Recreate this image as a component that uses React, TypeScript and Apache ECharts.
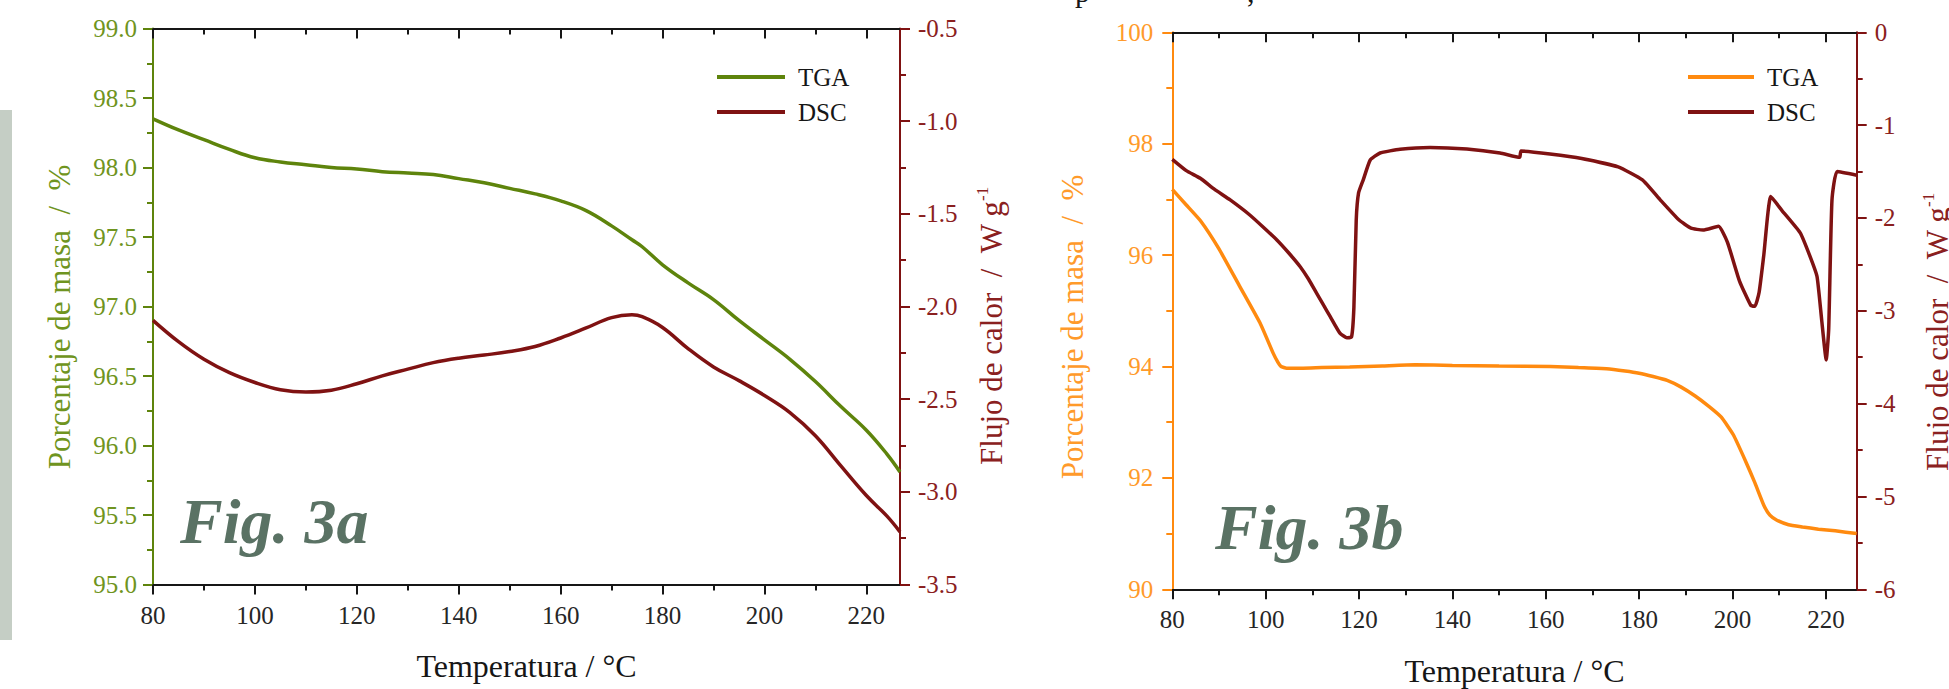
import { useEffect, useRef } from 'react';
import * as echarts from 'echarts';

// ---------- data ----------
const xMajorTicks = [80, 100, 120, 140, 160, 180, 200, 220];
const xMinorTicks = [90, 110, 130, 150, 170, 190, 210];

// Fig. 3a
const tempA = [80, 85, 90, 95, 100, 105, 110, 115, 120, 125, 130, 135, 140, 145, 150, 155, 160, 165, 170, 174, 176, 180, 185, 190, 195, 200, 205, 210, 215, 220, 224, 226.6];
const tgaA = [98.35, 98.27, 98.2, 98.13, 98.07, 98.04, 98.02, 98.0, 97.99, 97.97, 97.96, 97.95, 97.92, 97.89, 97.85, 97.81, 97.76, 97.69, 97.58, 97.48, 97.43, 97.3, 97.17, 97.05, 96.9, 96.76, 96.62, 96.46, 96.28, 96.11, 95.94, 95.81];
const dscA = [-2.075, -2.19, -2.285, -2.357, -2.41, -2.449, -2.462, -2.452, -2.417, -2.374, -2.338, -2.303, -2.279, -2.262, -2.243, -2.216, -2.17, -2.116, -2.06, -2.045, -2.055, -2.113, -2.227, -2.326, -2.4, -2.48, -2.572, -2.697, -2.86, -3.02, -3.13, -3.216];

// Fig. 3b
const tempTgaB = [80, 83, 86, 90, 94.5, 98.8, 101.6, 102.6, 103.3, 104.5, 108, 112, 118, 125, 132, 140, 150, 161, 167, 173, 177, 180, 183, 186, 189, 192, 195, 197.6, 200.2, 202.8, 204.8, 206.7, 208, 209.5, 212, 215, 218.4, 222, 226.6];
const tgaB = [97.18, 96.9, 96.62, 96.11, 95.43, 94.78, 94.24, 94.08, 94.0, 93.97, 93.97, 93.98, 93.99, 94.01, 94.03, 94.02, 94.01, 94.0, 93.98, 93.96, 93.92, 93.88, 93.82, 93.75, 93.63, 93.47, 93.28, 93.09, 92.77, 92.3, 91.91, 91.51, 91.33, 91.24, 91.16, 91.12, 91.08, 91.05, 91.0];
const tempDscB = [80, 83, 86, 89, 92.4, 96.6, 99.5, 102.4, 105, 107.4, 109.2, 110.9, 112.4, 113.8, 115.9, 117.4, 118.4, 118.9, 119.4, 119.9, 120.9, 122.4, 124.5, 128.8, 135.2, 143.1, 150.2, 154.4, 154.7, 160.9, 167.7, 175.5, 180.7, 184.6, 188.5, 191.1, 193.7, 197.0, 198.9, 201.5, 203.9, 204.8, 205.7, 206.7, 208.2, 210.6, 214.5, 216.5, 218.1, 219.1, 220.07, 220.6, 221.3, 222.4, 226.6];
const dscB = [-1.368, -1.49, -1.573, -1.69, -1.806, -1.968, -2.1, -2.237, -2.38, -2.525, -2.66, -2.81, -2.94, -3.06, -3.24, -3.29, -3.28, -2.96, -2.02, -1.73, -1.59, -1.376, -1.3, -1.26, -1.24, -1.257, -1.3, -1.347, -1.279, -1.311, -1.36, -1.45, -1.59, -1.81, -2.02, -2.11, -2.13, -2.09, -2.26, -2.68, -2.94, -2.95, -2.8, -2.4, -1.77, -1.92, -2.16, -2.4, -2.63, -3.1, -3.53, -3.2, -1.81, -1.5, -1.54];

// ---------- styles ----------
const FONT = "'Liberation Serif', 'Times New Roman', serif";
const GREEN = '#5e840c';
const GREEN_TXT = '#6f9420';
const RED = '#7f1212';
const RED_TXT = '#8a2020';
const ORANGE = '#ff8a0f';
const ORANGE_TXT = '#ff9a2a';
const BLACK = '#161616';
const FIG = '#5a7264';
const NB = '\u00a0';

const zip = (xs: number[], ys: number[]) => xs.map((x, i) => [x, ys[i]]);

function xAxesFor(grid: number, nameGap: number) {
  const base = {
    gridIndex: grid,
    type: 'value',
    min: 80,
    max: 226.6,
    splitLine: { show: false },
  };
  return [
    {
      ...base,
      position: 'bottom',
      axisLine: { show: true, onZero: false, lineStyle: { color: BLACK, width: 2 } },
      axisTick: { show: true, inside: false, length: 10, customValues: xMajorTicks, lineStyle: { color: BLACK, width: 2 } },
      axisLabel: { show: true, customValues: xMajorTicks, margin: 18, fontSize: 25, fontFamily: FONT, color: '#262626' },
      name: `Temperatura${NB}/${NB}°C`,
      nameLocation: 'middle',
      nameGap,
      nameTextStyle: { fontSize: 32, fontFamily: FONT, color: BLACK },
    },
    {
      ...base,
      position: 'bottom',
      axisLine: { show: false, onZero: false },
      axisTick: { show: true, inside: false, length: 6, customValues: xMinorTicks, lineStyle: { color: BLACK, width: 2 } },
      axisLabel: { show: false },
    },
    {
      ...base,
      position: 'top',
      axisLine: { show: true, onZero: false, lineStyle: { color: BLACK, width: 2 } },
      axisTick: { show: true, inside: true, length: 10, customValues: xMajorTicks, lineStyle: { color: BLACK, width: 2 } },
      axisLabel: { show: false },
    },
    {
      ...base,
      position: 'top',
      axisLine: { show: false, onZero: false },
      axisTick: { show: true, inside: true, length: 6, customValues: xMinorTicks, lineStyle: { color: BLACK, width: 2 } },
      axisLabel: { show: false },
    },
  ];
}

function yAxis(grid: number, position: string, min: number, max: number, interval: number, color: string, txt: string, digits: number, margin: number) {
  return {
    gridIndex: grid,
    type: 'value',
    position,
    min,
    max,
    interval,
    axisLine: { show: true, onZero: false, lineStyle: { color, width: 2 } },
    axisTick: { show: true, inside: false, length: 10, lineStyle: { color, width: 2 } },
    minorTick: { show: true, splitNumber: 2, length: 6, lineStyle: { color, width: 2 } },
    splitLine: { show: false },
    minorSplitLine: { show: false },
    axisLabel: {
      show: true,
      margin,
      fontSize: 25,
      fontFamily: FONT,
      color: txt,
      formatter: (v: number) => v.toFixed(digits),
    },
  };
}

function rotTitle(x: number, y: number, text: string, color: string, sup?: string) {
  return {
    type: 'text',
    x,
    y,
    rotation: Math.PI / 2,
    style: {
      text: sup ? `${text}{sup|${sup}}` : text,
      fontSize: 31,
      fontFamily: FONT,
      fill: color,
      align: 'center',
      verticalAlign: 'middle',
      rich: {
        sup: { fontSize: 17, fontFamily: FONT, fill: color, verticalAlign: 'top', lineHeight: 34 },
      },
    },
  };
}

export default function App() {
  const ref = useRef<HTMLDivElement>(null);
  useEffect(() => {
    if (!ref.current) return;
    const chart = echarts.init(ref.current, undefined, { renderer: 'svg' });
    const lineA = { type: 'line', showSymbol: false, symbol: 'none', smooth: 0.4 };
    const lineB = { type: 'line', showSymbol: false, symbol: 'none', smooth: 0.15 };
    const option: any = {
      animation: false,
      backgroundColor: '#ffffff',
      grid: [
        { left: 153, top: 28.5, width: 747, height: 556, outerBoundsMode: 'none', containLabel: false },
        { left: 1172.3, top: 32.3, width: 684.4, height: 557, outerBoundsMode: 'none', containLabel: false },
      ],
      xAxis: [...xAxesFor(0, 65), ...xAxesFor(1, 66)],
      yAxis: [
        yAxis(0, 'left', 95, 99, 0.5, GREEN, GREEN_TXT, 1, 16),
        yAxis(0, 'right', -3.5, -0.5, 0.5, RED, RED_TXT, 1, 18),
        yAxis(1, 'left', 90, 100, 2, ORANGE, ORANGE_TXT, 0, 19),
        yAxis(1, 'right', -6, 0, 1, RED, RED_TXT, 0, 18),
      ],
      legend: [
        {
          left: 717, top: 64.5, orient: 'vertical', icon: 'rect', itemWidth: 68, itemHeight: 4, itemGap: 10,
          selectedMode: false, padding: 0,
          textStyle: { fontSize: 25, fontFamily: FONT, color: BLACK, padding: [0, 0, 0, 8] },
          data: [
            { name: 'TGA', itemStyle: { color: GREEN } },
            { name: 'DSC', itemStyle: { color: RED } },
          ],
        },
        {
          left: 1688, top: 64.5, orient: 'vertical', icon: 'rect', itemWidth: 66, itemHeight: 4, itemGap: 10,
          selectedMode: false, padding: 0,
          textStyle: { fontSize: 25, fontFamily: FONT, color: BLACK, padding: [0, 0, 0, 8] },
          data: [
            { name: 'TGA', itemStyle: { color: ORANGE } },
            { name: 'DSC', itemStyle: { color: RED } },
          ],
        },
      ],
      series: [
        { ...lineA, name: 'TGA', xAxisIndex: 0, yAxisIndex: 0, data: zip(tempA, tgaA), lineStyle: { color: GREEN, width: 3.5 }, itemStyle: { color: GREEN } },
        { ...lineA, name: 'DSC', xAxisIndex: 0, yAxisIndex: 1, data: zip(tempA, dscA), lineStyle: { color: RED, width: 3.5 }, itemStyle: { color: RED } },
        { ...lineB, name: 'TGA', xAxisIndex: 4, yAxisIndex: 2, data: zip(tempTgaB, tgaB), lineStyle: { color: ORANGE, width: 3.5 }, itemStyle: { color: ORANGE } },
        { ...lineB, name: 'DSC', xAxisIndex: 4, yAxisIndex: 3, data: zip(tempDscB, dscB), lineStyle: { color: RED, width: 3.5 }, itemStyle: { color: RED } },
      ],
      graphic: [
        { type: 'rect', shape: { x: 0, y: 110, width: 12, height: 530 }, style: { fill: '#c5cec5' }, silent: true },
        {
          type: 'text', x: 180, y: 521,
          style: { text: 'Fig. 3a', fontSize: 64, fontWeight: 'bold', fontStyle: 'italic', fontFamily: FONT, fill: FIG, align: 'left', verticalAlign: 'middle' },
        },
        {
          type: 'text', x: 1215, y: 527,
          style: { text: 'Fig. 3b', fontSize: 64, fontWeight: 'bold', fontStyle: 'italic', fontFamily: FONT, fill: FIG, align: 'left', verticalAlign: 'middle' },
        },
        rotTitle(59, 317, `Porcentaje de masa${NB}${NB}/${NB}${NB}%`, GREEN_TXT),
        rotTitle(991, 326, `Flujo de calor${NB}${NB}/${NB}${NB}W g`, RED_TXT, '-1'),
        rotTitle(1072, 327, `Porcentaje de masa${NB}${NB}/${NB}${NB}%`, ORANGE_TXT),
        rotTitle(1937, 332, `Flujo de calor${NB}${NB}/${NB}${NB}W g`, RED_TXT, '-1'),
        { type: 'text', x: 1075, y: 6, style: { text: 'p', fontSize: 30, fontFamily: FONT, fill: BLACK, align: 'left', verticalAlign: 'bottom' } },
        { type: 'text', x: 1247, y: 6, style: { text: ',', fontSize: 30, fontFamily: FONT, fill: BLACK, align: 'left', verticalAlign: 'bottom' } },
      ],
    };
    chart.setOption(option);
    return () => chart.dispose();
  }, []);
  return <div ref={ref} style={{ position: 'fixed', left: 0, top: 0, width: 1949, height: 689 }} />;
}
